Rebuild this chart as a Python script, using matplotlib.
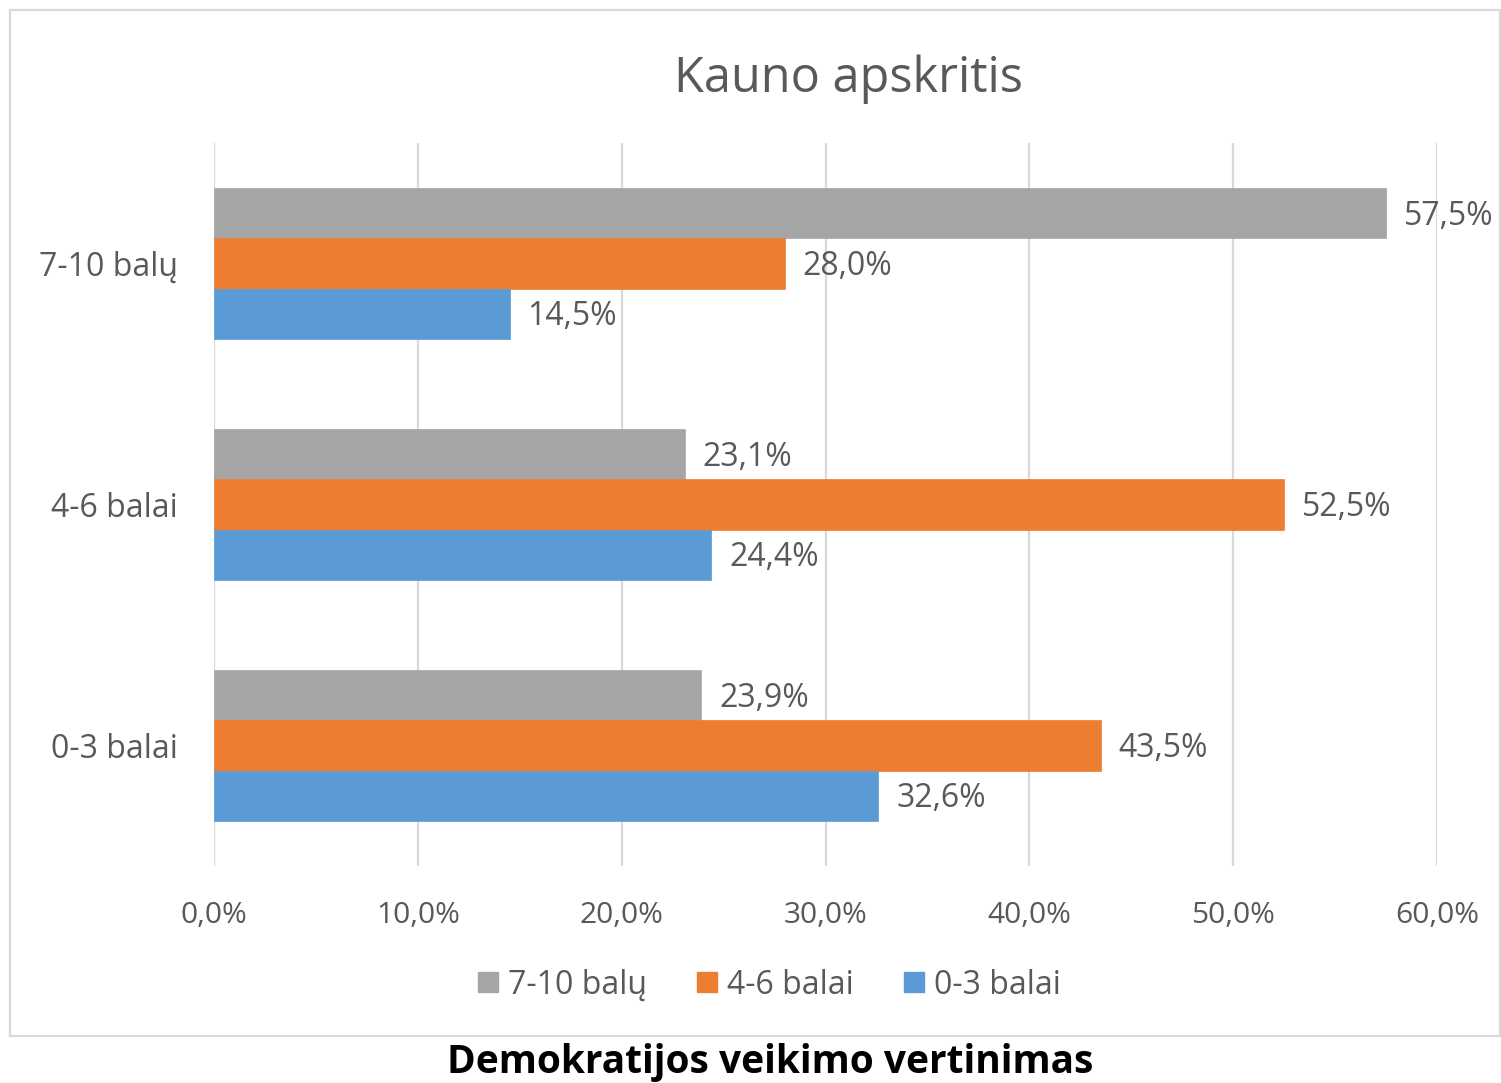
import matplotlib
matplotlib.use("Agg")
import matplotlib.pyplot as plt
from matplotlib.lines import Line2D
from matplotlib.patches import Rectangle

categories = ["0-3 balai", "4-6 balai", "7-10 balų"]
series_names = ["7-10 balų", "4-6 balai", "0-3 balai"]
values_7_10 = [23.9, 23.1, 57.5]
values_4_6 = [43.5, 52.5, 28.0]
values_0_3 = [32.6, 24.4, 14.5]
xticks = [0, 10, 20, 30, 40, 50, 60]
title = "Kauno apskritis"
caption = "Demokratijos veikimo vertinimas"

colors = ["#A5A5A5", "#ED7D31", "#5B9BD5"]
txt = "#595959"
FONT = ["Open Sans", "DejaVu Sans"]
plt.rcParams["font.family"] = FONT

W, H = 1501, 1083
fig = plt.figure(figsize=(W / 100, H / 100), dpi=100)
fig.patch.set_facecolor("white")

# outer chart frame
fig.add_artist(Rectangle((10 / W, 1 - 1036 / H), 1490 / W, 1026 / H,
                         transform=fig.transFigure, fill=False,
                         edgecolor="#D9D9D9", linewidth=1.6))

ax = fig.add_axes([214 / W, 1 - 866 / H, (1437 - 214) / W, (866 - 143) / H])
bh = 0.208
series = [values_7_10, values_4_6, values_0_3]
offsets = [bh, 0, -bh]
for vals, off, col in zip(series, offsets, colors):
    ys = [i + off for i in range(len(categories))]
    ax.barh(ys, vals, height=bh, color=col, edgecolor=col, linewidth=0.5, zorder=3)
    for y, v in zip(ys, vals):
        ax.annotate(f"{v:.1f}%".replace(".", ","), xy=(v, y), xytext=(18, -3),
                    textcoords="offset pixels", va="center", ha="left",
                    fontsize=23, color=txt, clip_on=False, annotation_clip=False)

ax.set_xlim(0, 60)
ax.set_ylim(-0.5, 2.5)
ax.set_xticks(xticks)
ax.set_xticklabels([f"{t:.1f}%".replace(".", ",") for t in xticks], fontsize=21.5, color=txt)
ax.set_yticks(range(len(categories)))
ax.set_yticklabels(categories, fontsize=23, color=txt)
ax.tick_params(axis="both", length=0)
ax.tick_params(axis="x", pad=25)
ax.tick_params(axis="y", pad=26)
ax.grid(axis="x", color="#D9D9D9", linewidth=1.6, zorder=0)
ax.set_axisbelow(True)
for s in ax.spines.values():
    s.set_visible(False)

fig.text(848 / W, 1 - 79 / H, title, ha="center", va="center", fontsize=35, color=txt)

handles = [Line2D([], [], marker="s", linestyle="none", markersize=14,
                  markerfacecolor=c, markeredgecolor=c) for c in colors]
fig.legend(handles, series_names, loc="center", bbox_to_anchor=(770 / W, 1 - 985 / H),
           ncol=3, frameon=False, fontsize=23, labelcolor=txt,
           handlelength=0.55, handletextpad=0.35, columnspacing=1.6)

fig.text(770 / W, 1 - 1063 / H, caption, ha="center", va="center", fontsize=28,
         fontweight="bold", color="black")

fig.savefig("out.png", dpi=100)
